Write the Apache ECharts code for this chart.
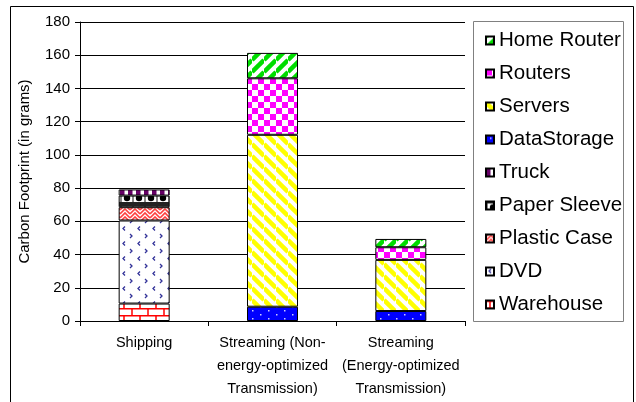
<!DOCTYPE html>
<html>
<head>
<meta charset="utf-8">
<script src="https://cdn.jsdelivr.net/npm/echarts@6/dist/echarts.min.js"></script>
<style>
  html, body { margin: 0; padding: 0; background: #fff; }
  #chart1 { width: 636px; height: 402px; }
</style>
</head>
<body>
<div id="chart1"></div>
<script>
const categories = ['Shipping', 'Streaming (Non-\nenergy-optimized\nTransmission)', 'Streaming\n(Energy-optimized\nTransmission)']

// stack order, bottom to top
const seriesNames = ['Warehouse', 'DVD', 'Plastic Case', 'Paper Sleeve', 'Truck', 'DataStorage', 'Servers', 'Routers', 'Home Router']
const warehouse = [10.5, 0, 0]
const dvd = [50, 0, 0]
const plasticCase = [8, 0, 0]
const paperSleeve = [7, 0, 0]
const truck = [3.7, 0, 0]
const dataStorage = [0, 8.6, 6]
const servers = [0, 103.5, 30.8]
const routers = [0, 34, 7.6]
const homeRouter = [0, 15.3, 5]

const yTicks = [0, 20, 40, 60, 80, 100, 120, 140, 160, 180]

const makePattern = (w, h, draw) => {
  const c = document.createElement('canvas')
  c.width = w
  c.height = h
  const ctx = c.getContext('2d')
  ctx.fillStyle = '#fff'
  ctx.fillRect(0, 0, w, h)
  draw(ctx)
  return { image: c, repeat: 'repeat' }
}

const stripes = (ctx, size, color, width, back) => {
  ctx.strokeStyle = color
  ctx.lineWidth = width
  for (let k = -1; k <= 1; k++) {
    ctx.beginPath()
    if (back) {
      ctx.moveTo(0, k * size)
      ctx.lineTo(size, k * size + size)
    } else {
      ctx.moveTo(0, k * size + size)
      ctx.lineTo(size, k * size)
    }
    ctx.stroke()
  }
}

const patterns = {
  'Warehouse': makePattern(16, 14, ctx => {
    ctx.strokeStyle = '#ff0000'
    ctx.lineWidth = 1.5
    ctx.beginPath()
    ctx.moveTo(0, 0.75); ctx.lineTo(16, 0.75)
    ctx.moveTo(0, 7.75); ctx.lineTo(16, 7.75)
    ctx.moveTo(4, 0); ctx.lineTo(4, 7)
    ctx.moveTo(12, 7); ctx.lineTo(12, 14)
    ctx.stroke()
  }),
  'DVD': makePattern(15, 15, ctx => {
    ctx.strokeStyle = '#333399'
    ctx.lineWidth = 1.3
    ctx.beginPath()
    ctx.moveTo(5, 1.5); ctx.lineTo(3, 3.5); ctx.lineTo(5, 5.5)
    ctx.moveTo(10, 9); ctx.lineTo(12, 11); ctx.lineTo(10, 13)
    ctx.stroke()
  }),
  'Plastic Case': makePattern(10, 8, ctx => {
    ctx.strokeStyle = '#ff4040'
    ctx.lineWidth = 1.6
    ctx.beginPath()
    ctx.moveTo(0, 6); ctx.lineTo(5, 1); ctx.lineTo(10, 6)
    ctx.moveTo(0, 10); ctx.lineTo(5, 5); ctx.lineTo(10, 10)
    ctx.moveTo(0, 2); ctx.lineTo(5, -3); ctx.lineTo(10, 2)
    ctx.stroke()
  }),
  'Paper Sleeve': makePattern(12, 12, ctx => {
    ctx.fillStyle = '#222'
    ctx.fillRect(0, 0, 12, 2)
    ctx.fillRect(0, 10, 12, 2)
    ctx.fillStyle = '#888'
    ctx.fillRect(0, 2, 2, 8)
    ctx.fillStyle = '#000'
    ctx.beginPath()
    ctx.arc(7, 6, 3.2, 0, Math.PI * 2)
    ctx.fill()
  }),
  'Truck': makePattern(8, 4, ctx => {
    ctx.fillStyle = '#660066'
    ctx.fillRect(0, 0, 4.5, 4)
  }),
  'DataStorage': makePattern(16, 8, ctx => {
    ctx.fillStyle = '#0000ff'
    ctx.fillRect(0, 0, 16, 8)
    ctx.fillStyle = '#ccccff'
    ctx.fillRect(4, 2, 1.5, 1.5)
    ctx.fillRect(12, 6, 1.5, 1.5)
  }),
  'Servers': makePattern(12, 12, ctx => stripes(ctx, 12, '#ffff00', 4.5, true)),
  'Routers': makePattern(12, 12, ctx => {
    ctx.fillStyle = '#ff00ff'
    ctx.fillRect(0, 0, 6, 6)
    ctx.fillRect(6, 6, 6, 6)
  }),
  'Home Router': makePattern(12, 12, ctx => stripes(ctx, 12, '#00dd00', 4.5, false))
}

const seriesData = [warehouse, dvd, plasticCase, paperSleeve, truck, dataStorage, servers, routers, homeRouter]

const getOptionChart1 = () => {
  const series = seriesNames.map((name, i) => ({
    name: name,
    type: 'bar',
    stack: 'total',
    barWidth: 51,
    data: seriesData[i].map(v => (v === 0 ? '-' : v)),
    itemStyle: {
      color: patterns[name],
      borderColor: '#000',
      borderWidth: 1
    },
    emphasis: { disabled: true }
  }))

  return {
    animation: false,
    textStyle: { fontFamily: 'Liberation Sans, Arial, sans-serif' },
    graphic: [
      {
        type: 'rect',
        shape: { x: 10.5, y: 6.5, width: 623, height: 420 },
        style: { fill: 'none', stroke: '#000', lineWidth: 1 },
        silent: true
      },
      {
        type: 'rect',
        shape: { x: 473.5, y: 21.5, width: 150, height: 300 },
        style: { fill: 'none', stroke: '#808080', lineWidth: 1 },
        silent: true
      }
    ],
    legend: {
      orient: 'vertical',
      left: 480,
      top: 25,
      padding: 5,
      data: seriesNames.slice().reverse(),
      icon: 'rect',
      itemWidth: 8,
      itemHeight: 8,
      itemGap: 12,
      selectedMode: false,
      textStyle: { fontSize: 20.5, lineHeight: 20, color: '#000', fontFamily: 'Liberation Sans, Arial, sans-serif' }
    },
    grid: {
      left: 80,
      right: 171,
      top: 22,
      bottom: 81,
      containLabel: false
    },
    xAxis: {
      type: 'category',
      data: categories,
      axisLine: { lineStyle: { color: '#000', width: 1 } },
      axisTick: { show: true, length: 5, lineStyle: { color: '#000' } },
      axisLabel: {
        color: '#000',
        fontSize: 14.5,
        lineHeight: 23,
        margin: 10,
        interval: 0
      }
    },
    yAxis: {
      type: 'value',
      min: 0,
      max: 180,
      interval: 20,
      name: 'Carbon Footprint (in grams)',
      nameLocation: 'middle',
      nameGap: 48,
      nameTextStyle: { fontSize: 15, color: '#000' },
      axisLine: { show: true, lineStyle: { color: '#000', width: 1 } },
      axisTick: { show: true, length: 5, lineStyle: { color: '#000' } },
      axisLabel: {
        color: '#000',
        fontSize: 15,
        margin: 10,
        formatter: v => (yTicks.includes(v) ? String(v) : '')
      },
      splitLine: { show: true, lineStyle: { color: '#000', width: 1 } }
    },
    series: series
  }
}

const chart1 = echarts.init(document.getElementById('chart1'))
chart1.setOption(getOptionChart1())
</script>
</body>
</html>
